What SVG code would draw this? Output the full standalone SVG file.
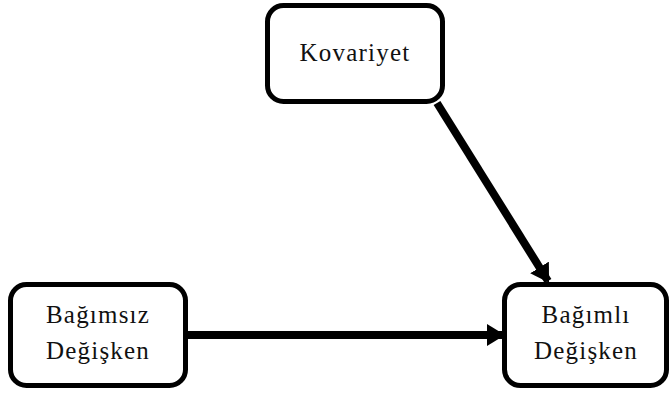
<svg xmlns="http://www.w3.org/2000/svg" width="672" height="394" viewBox="0 0 672 394">
<style>
.box{fill:#fff;stroke:#000;stroke-width:5}
.lbl{font-family:'Liberation Serif','Times New Roman',serif;font-size:25px;fill:#111;text-anchor:middle;letter-spacing:1.2px}
.con{stroke:#000;stroke-width:8;fill:none}
</style>
<defs>
<marker id="ah" markerUnits="userSpaceOnUse" markerWidth="18" markerHeight="22" refX="16" refY="11" orient="auto">
<path d="M0,0 L18,11 L0,22 Z" fill="#000"/>
</marker>
</defs>
<g id="connectors">
<line class="con" x1="187" y1="335" x2="503" y2="335" marker-end="url(#ah)"/>
<line class="con" x1="437" y1="103" x2="548" y2="281" marker-end="url(#ah)"/>
</g>
<g id="kovariyet">
<rect class="box" x="267.500" y="5.500" width="175" height="96" rx="16"/>
<text class="lbl" x="355" y="61">Kovariyet</text>
</g>
<g id="bagimsiz">
<rect class="box" x="10.500" y="284.500" width="175" height="101" rx="16"/>
<text class="lbl" x="98" y="323">Bağımsız</text>
<text class="lbl" x="98" y="359">Değişken</text>
</g>
<g id="bagimli">
<rect class="box" x="504.500" y="284.500" width="162" height="101" rx="16"/>
<text class="lbl" x="586" y="323">Bağımlı</text>
<text class="lbl" x="586" y="359">Değişken</text>
</g>
</svg>
